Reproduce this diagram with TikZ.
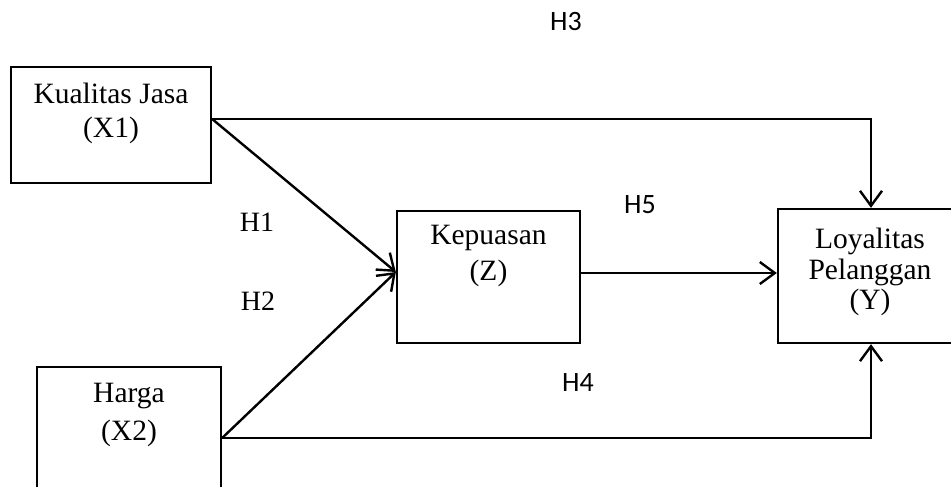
\documentclass[tikz,border=0pt]{standalone}
\usepackage{fontspec}
\setmainfont{Liberation Serif}
\newfontfamily\labelsans{Carlito}
\usetikzlibrary{arrows.meta,calc}
\begin{document}
\begin{tikzpicture}[x=1pt,y=-1pt,
  box/.style={draw, line width=2.3pt, inner sep=0pt},
  boxtext/.style={align=center, inner sep=0pt},
  link/.style={line width=2.4pt, -{Straight Barb[length=15pt,width=22pt,line width=2.4pt]}},
  hyp/.style={font=\labelsans\fontsize{28}{32}\selectfont, inner sep=0pt},
  hypserif/.style={font=\fontsize{28}{32}\selectfont, inner sep=0pt}]
\useasboundingbox (0,0) rectangle (951,487);
\clip (0,0) rectangle (951,487);

% variable boxes
\node[box, minimum width=200pt, minimum height=116pt] (x1) at (111,125) {};
\node[box, minimum width=183pt, minimum height=132pt] (z)  at (488.5,277) {};
\node[box, minimum width=184pt, minimum height=134pt] (y)  at (870,276) {};
\node[box, minimum width=184pt, minimum height=134pt] (x2) at (129,434) {};

% box captions
\node[boxtext, font=\fontsize{29.5}{34}\selectfont] (x1t) at (111,113) {Kualitas Jasa\\(X1)};
\node[boxtext, font=\fontsize{29.5}{36}\selectfont] (zt)  at (488.5,256) {Kepuasan\\(Z)};
\node[boxtext, font=\fontsize{29.5}{30.5}\selectfont] (yt)  at (870,272) {Loyalitas\\Pelanggan\\(Y)};
\node[boxtext, font=\fontsize{29.5}{38}\selectfont] (x2t) at (129,415) {Harga\\(X2)};

% connection points
\coordinate (x1out) at ([yshift=6pt]x1.east);
\coordinate (x2out) at ([yshift=-4pt]x2.east);
\coordinate (zin)   at ([yshift=5pt]z.west);
\coordinate (zout)  at ([yshift=4pt]z.east);

% paths
\draw[link] (x1out) -| ([xshift=1pt]y.north);
\draw[link] (x1out) -- (zin);
\draw[link] (x2out) -- (zin);
\draw[link] (zout) -- (zout -| y.west);
\draw[link] (x2out) -| ([xshift=1pt]y.south);

% hypothesis labels
\node[hyp] (h3) at (566,22) {H3};
\node[hypserif] (h1) at (257,222) {H1};
\node[hypserif] (h2) at (258,301) {H2};
\node[hyp] (h5) at (640,205) {H5};
\node[hyp] (h4) at (578,383) {H4};
\end{tikzpicture}
\end{document}
